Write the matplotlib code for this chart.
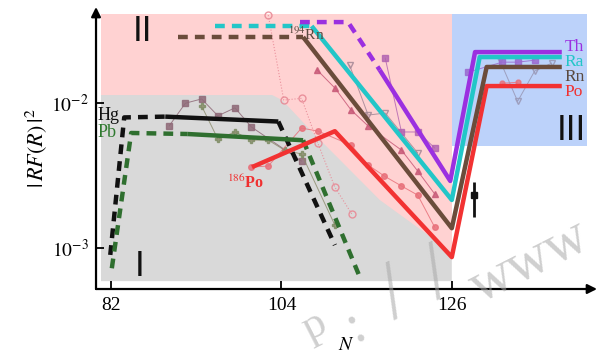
import matplotlib
matplotlib.use("Agg")
import matplotlib.pyplot as plt
from matplotlib.patches import Polygon

plt.rcParams['font.family'] = ['Liberation Serif', 'DejaVu Serif']
plt.rcParams['mathtext.fontset'] = 'stix'

# ---- model curves (N, |RF(R)|^2) ----
hg_N = [81.9, 83.7, 89.0, 103.6, 110.9]
hg_val = [8.9e-4, 7.9e-3, 8.0e-3, 7.4e-3, 1.04e-3]
pb_N = [82.1, 84.6, 91.9, 106.8, 114.1]
pb_val = [7.2e-4, 6.17e-3, 6.07e-3, 5.5e-3, 6.3e-4]
po_N = [100.2, 110.9, 126.0, 130.5, 140.2]
po_val = [3.59e-3, 6.35e-3, 8.6e-4, 1.30e-2, 1.30e-2]
rn_N = [90.6, 106.8, 126.0, 130.5, 140.2]
rn_val = [2.83e-2, 2.83e-2, 1.36e-3, 1.76e-2, 1.76e-2]
ra_N = [95.4, 107.9, 126.0, 129.6, 140.2]
ra_val = [3.37e-2, 3.37e-2, 2.13e-3, 2.06e-2, 2.06e-2]
th_N = [106.4, 112.6, 116.7, 125.8, 129.0, 140.2]
th_val = [3.59e-2, 3.59e-2, 1.675e-2, 2.88e-3, 2.23e-2, 2.23e-2]

# ---- experimental points ----
hg_exp_N = [89.5, 91.6, 93.7, 95.8, 98.0, 100.1, 106.6]
hg_exp_val = [6.9e-3, 9.9e-3, 1.06e-2, 8.1e-3, 9.2e-3, 6.8e-3, 3.95e-3]
pb_exp_N = [93.7, 95.8, 98.0, 100.1, 102.3, 104.4, 106.6, 110.9]
pb_exp_val = [9.46e-3, 5.6e-3, 6.27e-3, 5.51e-3, 5.51e-3, 4.7e-3, 4.42e-3, 1.43e-3]
po_exp_N = [100.1, 102.3, 106.6, 108.7, 113.0, 115.2, 117.3, 119.5, 121.6, 123.8]
po_exp_val = [3.59e-3, 3.65e-3, 6.67e-3, 6.36e-3, 5.09e-3, 3.71e-3, 3.11e-3,
              2.66e-3, 2.30e-3, 1.38e-3]
po_exp3_N = [132.5, 134.5]
po_exp3_val = [1.36e-2, 1.38e-2]
open_N = [102.3, 104.3, 106.6, 108.7, 110.9, 113.1]
open_val = [4.01e-2, 1.04e-2, 1.07e-2, 5.26e-3, 2.61e-3, 1.70e-3]
tri_N = [108.6, 110.9, 113.0, 115.2, 119.5, 121.6, 123.8]
tri_val = [1.68e-2, 1.26e-2, 8.88e-3, 6.89e-3, 4.70e-3, 3.37e-3, 2.34e-3]
itri_N = [112.8, 115.2, 117.4, 121.6]
itri_val = [1.81e-2, 8.2e-3, 8.47e-3, 4.49e-3]
itri3_N = [132.2, 134.5, 136.7, 138.9]
itri3_val = [1.96e-2, 1.02e-2, 1.65e-2, 1.87e-2]
sq_N = [117.4, 119.5, 121.6, 123.8]
sq_val = [2.03e-2, 6.27e-3, 6.27e-3, 4.86e-3]
sq3_N = [128.1, 132.5, 134.5, 136.7]
sq3_val = [1.62e-2, 1.9e-2, 1.9e-2, 1.96e-2]

err_N = 128.85
err_val = 2.30e-3
err_lo, err_hi = 1.62e-3, 2.83e-3

# ---- regions ----
pink_N = [80.7, 126.0]
pink_val = [8.2e-4, 4.07e-2]
blue_N = [126.0, 143.45]
blue_val = [5.0e-3, 4.07e-2]
gray_N = [80.7, 102.8, 104.1, 108.1, 116.7, 126.0, 126.0, 80.7]
gray_val = [1.127e-2, 1.127e-2, 1.04e-2, 6.17e-3, 2.13e-3, 9.3e-4, 5.87e-4, 5.87e-4]

fig = plt.figure(figsize=(5.99, 3.6), dpi=100)
ax = fig.add_axes([0.1603, 0.1972, 0.8364, 0.7833])
ax.set_yscale('log')
ax.set_xlim(80.06, 144.75)
ax.set_ylim(5.18e-4, 4.56e-2)

ax.fill_between(pink_N, pink_val[0], pink_val[1], color='#ffd2d2', lw=0, zorder=0)
ax.fill_between(blue_N, blue_val[0], blue_val[1], color='#bcd2fa', lw=0, zorder=0)
ax.add_patch(Polygon(list(zip(gray_N, gray_val)), closed=True, color='#d9d9d9',
                     lw=0, zorder=0.5))

# faint experimental series
ax.plot(hg_exp_N, hg_exp_val, '-s', color='#8f6a78', ms=4, lw=0.7, alpha=0.85, zorder=2)
ax.plot(pb_exp_N, pb_exp_val, '-P', color='#8a8a6a', mec='#7a8a60', ms=4, lw=0.7,
        alpha=0.8, zorder=2)
ax.plot(po_exp_N, po_exp_val, '-o', color='#e8707a', ms=4, lw=0.7, alpha=0.85, zorder=2)
ax.plot(po_exp3_N, po_exp3_val, '-o', color='#e8707a', ms=3.5, lw=0.7, alpha=0.8, zorder=2)
ax.plot(open_N, open_val, ':o', color='#e88a96', mfc='none', ms=5, lw=0.8, alpha=0.9,
        zorder=2)
ax.plot(tri_N, tri_val, '-^', color='#c85a78', ms=4.5, lw=0.7, alpha=0.85, zorder=2)
ax.plot(itri_N, itri_val, '-v', color='#a88a98', mfc='none', ms=5, lw=0.7, alpha=0.9,
        zorder=2)
ax.plot(itri3_N, itri3_val, '-v', color='#9a9ab8', mfc='none', ms=4.5, lw=0.7, alpha=0.9,
        zorder=2)
ax.plot(sq_N, sq_val, '-s', color='#b060b0', ms=4, lw=0.7, alpha=0.8, zorder=2)
ax.plot(sq3_N, sq3_val, '-s', color='#9a6ad0', ms=4, lw=0.7, alpha=0.85, zorder=2)


def draw_track(n, v, s0, s1, color):
    """dashed before index s0 and after s1, solid between"""
    kw = dict(color=color, lw=3.2, solid_capstyle='butt', zorder=3)
    if s0 > 0:
        ax.plot(n[:s0 + 1], v[:s0 + 1], dashes=(2.2, 1.6), **kw)
    ax.plot(n[s0:s1 + 1], v[s0:s1 + 1], **kw)
    if s1 < len(n) - 1:
        ax.plot(n[s1:], v[s1:], dashes=(2.2, 1.6), **kw)


draw_track(hg_N, hg_val, 2, 3, '#111111')
draw_track(pb_N, pb_val, 2, 3, '#2f6f2f')
draw_track(po_N, po_val, 0, 4, '#f23232')
draw_track(rn_N, rn_val, 1, 4, '#6b4c3b')
draw_track(ra_N, ra_val, 1, 4, '#22c6c8')
draw_track(th_N, th_val, 2, 5, '#9b30e0')

ax.errorbar([err_N], [err_val], yerr=[[err_val - err_lo], [err_hi - err_val]],
            fmt='s', color='#111111', ms=5, elinewidth=2, capsize=0, zorder=4)

# labels
ax.text(80.2, 8.2e-3, 'Hg', fontsize=13, color='#111111', va='center', ha='left', zorder=5)
ax.text(80.2, 6.17e-3, 'Pb', fontsize=13, color='#2f7a2f', va='center', ha='left', zorder=5)
ax.text(107.2, 2.96e-2, r'$^{194}$Rn', fontsize=11, color='#5a4a40', va='center',
        ha='center', zorder=5)
ax.text(99.3, 2.79e-3, r'$^{186}$Po', fontsize=11.5, color='#f03030', fontweight='bold',
        va='center', ha='center', zorder=5)
for name, yv, c in [('Th', 2.41e-2, '#9b30e0'), ('Ra', 1.90e-2, '#22c6c8'),
                    ('Rn', 1.50e-2, '#5a4a40'), ('Po', 1.18e-2, '#f03030')]:
    ax.text(140.6, yv, name, fontsize=12.5, color=c, va='center', ha='left', zorder=5)

ax.text(86.0, 3.11e-2, 'II', fontsize=24, family='DejaVu Sans', color='#111111',
        ha='center', va='center', zorder=5)
ax.text(85.74, 7.45e-4, 'I', fontsize=24, family='DejaVu Sans', color='#111111',
        ha='center', va='center', zorder=5)
ax.text(141.5, 6.46e-3, 'III', fontsize=24, family='DejaVu Sans', color='#111111',
        ha='center', va='center', zorder=5)

# axes with arrows
for s in ax.spines.values():
    s.set_visible(False)
ax.annotate('', xy=(0, 1), xytext=(0, 0), xycoords='axes fraction',
            arrowprops=dict(arrowstyle='-|>', lw=1.6, color='k', mutation_scale=14,
                            shrinkA=0, shrinkB=0))
ax.annotate('', xy=(1, 0), xytext=(0, 0), xycoords='axes fraction',
            arrowprops=dict(arrowstyle='-|>', lw=1.6, color='k', mutation_scale=14,
                            shrinkA=0, shrinkB=0))

ax.set_xticks([82, 104, 126])
ax.set_xticklabels(['82', '104', '126'], fontsize=14)
ax.set_yticks([1e-3, 1e-2])
ax.set_yticklabels([r'$10^{-3}$', r'$10^{-2}$'], fontsize=14)
ax.minorticks_off()
ax.tick_params(direction='in', length=6, width=1.3, pad=6)
ax.tick_params(axis='y', pad=5)
ax.set_xlabel(r'$N$', fontsize=14, labelpad=16)
ax.set_ylabel(r'$|\,RF(R)\,|^2$', fontsize=16, labelpad=2)

# watermark
wm = dict(color='#a8a8a8', alpha=0.55, rotation=27, ha='center', va='center',
          family='Liberation Serif', zorder=10)
fig.text(356 / 599, 1 - 327 / 360, ':', fontsize=40, **wm)
fig.text(395 / 599, 1 - 296 / 360, '/', fontsize=60, **wm)
fig.text(438 / 599, 1 - 276 / 360, '/', fontsize=60, **wm)
fig.text(530 / 599, 1 - 262 / 360, 'www', fontsize=42, **wm)
fig.text(314 / 599, 1 - 326 / 360, 'p', fontsize=32, **wm)

fig.savefig('out.png', dpi=100)
